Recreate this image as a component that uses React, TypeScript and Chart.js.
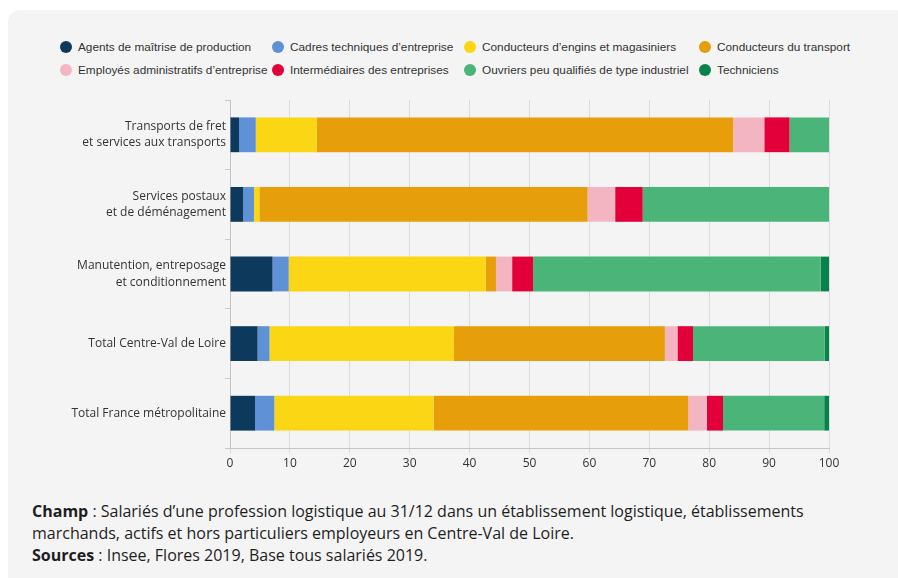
import React, { useEffect, useRef } from "react";
import { Chart, registerables } from "chart.js";

Chart.register(...registerables);

const categories: (string | string[])[] = [
  ["Transports de fret", "et services aux transports"],
  ["Services postaux", "et de déménagement"],
  ["Manutention, entreposage", "et conditionnement"],
  "Total Centre-Val de Loire",
  "Total France métropolitaine",
];

const seriesNames = [
  "Agents de maîtrise de production",
  "Cadres techniques d’entreprise",
  "Conducteurs d’engins et magasiniers",
  "Conducteurs du transport",
  "Employés administratifs d’entreprise",
  "Intermédiaires des entreprises",
  "Ouvriers peu qualifiés de type industriel",
  "Techniciens",
];

const seriesColors = [
  "#0d3a5c",
  "#5e91d6",
  "#fad614",
  "#e69e0a",
  "#f4b5c2",
  "#e3003a",
  "#4bb478",
  "#06834a",
];

const agents = [1.5, 2.2, 7.1, 4.6, 4.2];
const cadres = [2.8, 1.8, 2.7, 2.0, 3.2];
const conducteursEngins = [10.2, 0.9, 32.9, 30.8, 26.6];
const conducteursTransport = [69.5, 54.8, 1.7, 35.2, 42.5];
const employes = [5.2, 4.6, 2.7, 2.1, 3.1];
const intermediaires = [4.2, 4.6, 3.5, 2.6, 2.7];
const ouvriers = [6.6, 31.1, 48.0, 22.0, 16.9];
const techniciens = [0, 0, 1.4, 0.7, 0.8];

const seriesValues = [
  agents,
  cadres,
  conducteursEngins,
  conducteursTransport,
  employes,
  intermediaires,
  ouvriers,
  techniciens,
];

const xMin = 0;
const xMax = 100;
const xStep = 10;

export default function App() {
  const ref = useRef<HTMLCanvasElement | null>(null);

  useEffect(() => {
    if (!ref.current) return;
    const tickFont = { family: "'Open Sans', sans-serif", size: 12 };
    const chart = new Chart(ref.current, {
      type: "bar",
      data: {
        labels: categories as any,
        datasets: seriesNames.map((name, i) => ({
          label: name,
          data: seriesValues[i],
          backgroundColor: seriesColors[i],
          borderWidth: 0,
          barPercentage: 0.5,
          categoryPercentage: 1,
        })),
      },
      options: {
        indexAxis: "y",
        responsive: false,
        animation: false,
        layout: { padding: { top: 90, left: 41, right: 0, bottom: 0 } },
        plugins: {
          tooltip: { enabled: false },
          legend: { display: false },
        },
        scales: {
          x: {
            stacked: true,
            min: xMin,
            max: xMax,
            ticks: { stepSize: xStep, color: "#333333", font: tickFont, padding: 3 },
            grid: { color: "#dadada", tickLength: 5 },
            border: { color: "#c4c4c4" },
            afterFit(s: any) {
              s.height = 32;
            },
          },
          y: {
            stacked: true,
            grid: { drawOnChartArea: false, drawTicks: true, tickLength: 5, color: "#c8c8c8", offset: true },
            border: { display: true, color: "#c4c4c4" },
            ticks: {
              color: "#333333",
              font: { family: "'Open Sans', sans-serif", size: 12, lineHeight: 1.35 },
              padding: -1,
            },
            afterFit(s: any) {
              s.width = 181;
            },
          },
          y2: {
            position: "right",
            display: true,
            grid: { display: false, drawTicks: false },
            ticks: { display: false },
            border: { display: false },
            afterFit(s: any) {
              s.width = 69;
            },
          },
        },
      } as any,
    });
    return () => chart.destroy();
  }, []);

  const colWidths = [212, 192, 235, 200];

  return (
    <div
      style={{
        position: "fixed",
        left: 8,
        top: 10,
        width: 900,
        height: 580,
        background: "#f4f4f4",
        borderRadius: 12,
      }}
    >
      <div
        style={{
          position: "absolute",
          left: 52,
          top: 25,
          display: "grid",
          gridTemplateColumns: colWidths.map((w) => w + "px").join(" "),
          gridAutoRows: "23px",
          fontFamily: "'Liberation Sans', Arial, sans-serif",
          fontSize: 11.8,
          color: "#333333",
        }}
      >
        {seriesNames.map((name, i) => (
          <div key={name} style={{ display: "flex", alignItems: "center", whiteSpace: "nowrap" }}>
            <span
              style={{
                display: "inline-block",
                width: 12,
                height: 12,
                borderRadius: "50%",
                background: seriesColors[i],
                marginRight: 6,
                flex: "none",
              }}
            />
            <span>{name}</span>
          </div>
        ))}
      </div>
      <canvas
        ref={ref}
        width={890}
        height={470}
        style={{ position: "absolute", left: 0, top: 0, width: 890, height: 470 }}
      />
      <div
        style={{
          position: "absolute",
          left: 24,
          top: 490,
          fontFamily: "'Open Sans', sans-serif",
          fontSize: 16,
          lineHeight: "22px",
          color: "#1e1e1e",
          whiteSpace: "nowrap",
        }}
      >
        <b>Champ</b> : Salariés d’une profession logistique au 31/12 dans un établissement logistique, établissements
        <br />
        marchands, actifs et hors particuliers employeurs en Centre-Val de Loire.
        <br />
        <b>Sources</b> : Insee, Flores 2019, Base tous salariés 2019.
      </div>
    </div>
  );
}
